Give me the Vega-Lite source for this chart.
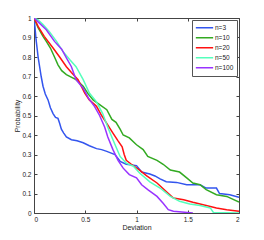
{
  "$schema": "https://vega.github.io/schema/vega-lite/v6.json",
  "width": 205,
  "height": 195,
  "autosize": {"type": "none"},
  "padding": {"left": 34, "top": 18, "right": 25, "bottom": 27},
  "background": "white",
  "config": {
    "view": {"stroke": "#444", "strokeWidth": 1},
    "font": "Liberation Sans",
    "axis": {"grid": false, "domain": false, "tickColor": "#444", "tickSize": -3, "labelFontSize": 6.5, "labelColor": "#222", "titleFontSize": 7, "titleFontWeight": "normal", "titleColor": "#222", "labelPadding": 6}
  },
  "data": {"values": [
    {"n":"n=3","x":0,"y":1},{"n":"n=3","x":0.01,"y":0.95},{"n":"n=3","x":0.02,"y":0.89},{"n":"n=3","x":0.04,"y":0.8},{"n":"n=3","x":0.055,"y":0.75},{"n":"n=3","x":0.07,"y":0.7},{"n":"n=3","x":0.088,"y":0.65},{"n":"n=3","x":0.11,"y":0.61},{"n":"n=3","x":0.137,"y":0.58},{"n":"n=3","x":0.16,"y":0.54},{"n":"n=3","x":0.186,"y":0.51},{"n":"n=3","x":0.21,"y":0.49},{"n":"n=3","x":0.234,"y":0.485},{"n":"n=3","x":0.25,"y":0.46},{"n":"n=3","x":0.267,"y":0.43},{"n":"n=3","x":0.29,"y":0.41},{"n":"n=3","x":0.316,"y":0.39},{"n":"n=3","x":0.365,"y":0.376},{"n":"n=3","x":0.42,"y":0.37},{"n":"n=3","x":0.48,"y":0.36},{"n":"n=3","x":0.54,"y":0.345},{"n":"n=3","x":0.61,"y":0.33},{"n":"n=3","x":0.66,"y":0.325},{"n":"n=3","x":0.71,"y":0.316},{"n":"n=3","x":0.79,"y":0.3},{"n":"n=3","x":0.84,"y":0.265},{"n":"n=3","x":0.9,"y":0.25},{"n":"n=3","x":1.0,"y":0.243},{"n":"n=3","x":1.05,"y":0.21},{"n":"n=3","x":1.13,"y":0.2},{"n":"n=3","x":1.18,"y":0.19},{"n":"n=3","x":1.23,"y":0.175},{"n":"n=3","x":1.29,"y":0.16},{"n":"n=3","x":1.39,"y":0.157},{"n":"n=3","x":1.49,"y":0.145},{"n":"n=3","x":1.62,"y":0.145},{"n":"n=3","x":1.68,"y":0.128},{"n":"n=3","x":1.78,"y":0.128},{"n":"n=3","x":1.81,"y":0.1},{"n":"n=3","x":1.91,"y":0.094},{"n":"n=3","x":2,"y":0.08},
    {"n":"n=10","x":0,"y":1},{"n":"n=10","x":0.04,"y":0.95},{"n":"n=10","x":0.088,"y":0.906},{"n":"n=10","x":0.12,"y":0.88},{"n":"n=10","x":0.16,"y":0.846},{"n":"n=10","x":0.2,"y":0.8},{"n":"n=10","x":0.234,"y":0.76},{"n":"n=10","x":0.27,"y":0.73},{"n":"n=10","x":0.316,"y":0.71},{"n":"n=10","x":0.41,"y":0.684},{"n":"n=10","x":0.48,"y":0.65},{"n":"n=10","x":0.53,"y":0.61},{"n":"n=10","x":0.577,"y":0.58},{"n":"n=10","x":0.64,"y":0.556},{"n":"n=10","x":0.71,"y":0.53},{"n":"n=10","x":0.76,"y":0.48},{"n":"n=10","x":0.8,"y":0.465},{"n":"n=10","x":0.84,"y":0.43},{"n":"n=10","x":0.87,"y":0.4},{"n":"n=10","x":0.93,"y":0.385},{"n":"n=10","x":1.0,"y":0.35},{"n":"n=10","x":1.065,"y":0.325},{"n":"n=10","x":1.11,"y":0.29},{"n":"n=10","x":1.2,"y":0.27},{"n":"n=10","x":1.26,"y":0.25},{"n":"n=10","x":1.33,"y":0.22},{"n":"n=10","x":1.42,"y":0.21},{"n":"n=10","x":1.49,"y":0.18},{"n":"n=10","x":1.55,"y":0.154},{"n":"n=10","x":1.62,"y":0.145},{"n":"n=10","x":1.68,"y":0.12},{"n":"n=10","x":1.78,"y":0.094},{"n":"n=10","x":1.88,"y":0.085},{"n":"n=10","x":2,"y":0.056},
    {"n":"n=20","x":0,"y":1},{"n":"n=20","x":0.04,"y":0.957},{"n":"n=20","x":0.1,"y":0.906},{"n":"n=20","x":0.186,"y":0.846},{"n":"n=20","x":0.25,"y":0.8},{"n":"n=20","x":0.316,"y":0.75},{"n":"n=20","x":0.365,"y":0.72},{"n":"n=20","x":0.43,"y":0.684},{"n":"n=20","x":0.495,"y":0.615},{"n":"n=20","x":0.54,"y":0.58},{"n":"n=20","x":0.61,"y":0.547},{"n":"n=20","x":0.66,"y":0.5},{"n":"n=20","x":0.71,"y":0.46},{"n":"n=20","x":0.77,"y":0.41},{"n":"n=20","x":0.82,"y":0.37},{"n":"n=20","x":0.86,"y":0.34},{"n":"n=20","x":0.88,"y":0.3},{"n":"n=20","x":0.9,"y":0.27},{"n":"n=20","x":0.95,"y":0.25},{"n":"n=20","x":1.03,"y":0.22},{"n":"n=20","x":1.1,"y":0.19},{"n":"n=20","x":1.2,"y":0.154},{"n":"n=20","x":1.29,"y":0.11},{"n":"n=20","x":1.36,"y":0.077},{"n":"n=20","x":1.46,"y":0.068},{"n":"n=20","x":1.55,"y":0.055},{"n":"n=20","x":1.68,"y":0.038},{"n":"n=20","x":1.78,"y":0.026},{"n":"n=20","x":1.88,"y":0.017},{"n":"n=20","x":2,"y":0.009},
    {"n":"n=50","x":0,"y":1},{"n":"n=50","x":0.04,"y":0.99},{"n":"n=50","x":0.088,"y":0.966},{"n":"n=50","x":0.15,"y":0.93},{"n":"n=50","x":0.22,"y":0.88},{"n":"n=50","x":0.28,"y":0.83},{"n":"n=50","x":0.35,"y":0.786},{"n":"n=50","x":0.41,"y":0.75},{"n":"n=50","x":0.48,"y":0.684},{"n":"n=50","x":0.54,"y":0.615},{"n":"n=50","x":0.61,"y":0.57},{"n":"n=50","x":0.67,"y":0.51},{"n":"n=50","x":0.72,"y":0.44},{"n":"n=50","x":0.77,"y":0.376},{"n":"n=50","x":0.84,"y":0.29},{"n":"n=50","x":0.9,"y":0.256},{"n":"n=50","x":0.97,"y":0.24},{"n":"n=50","x":1.03,"y":0.205},{"n":"n=50","x":1.13,"y":0.16},{"n":"n=50","x":1.23,"y":0.128},{"n":"n=50","x":1.33,"y":0.085},{"n":"n=50","x":1.42,"y":0.06},{"n":"n=50","x":1.52,"y":0.046},{"n":"n=50","x":1.62,"y":0.038},{"n":"n=50","x":1.72,"y":0.026},{"n":"n=50","x":1.75,"y":0.003},{"n":"n=50","x":2,"y":0},
    {"n":"n=100","x":0,"y":1},{"n":"n=100","x":0.04,"y":0.98},{"n":"n=100","x":0.12,"y":0.94},{"n":"n=100","x":0.2,"y":0.88},{"n":"n=100","x":0.27,"y":0.84},{"n":"n=100","x":0.316,"y":0.795},{"n":"n=100","x":0.365,"y":0.75},{"n":"n=100","x":0.41,"y":0.684},{"n":"n=100","x":0.48,"y":0.64},{"n":"n=100","x":0.53,"y":0.59},{"n":"n=100","x":0.59,"y":0.547},{"n":"n=100","x":0.64,"y":0.5},{"n":"n=100","x":0.69,"y":0.44},{"n":"n=100","x":0.72,"y":0.39},{"n":"n=100","x":0.77,"y":0.325},{"n":"n=100","x":0.82,"y":0.27},{"n":"n=100","x":0.87,"y":0.23},{"n":"n=100","x":0.93,"y":0.197},{"n":"n=100","x":1.0,"y":0.18},{"n":"n=100","x":1.05,"y":0.145},{"n":"n=100","x":1.11,"y":0.12},{"n":"n=100","x":1.2,"y":0.085},{"n":"n=100","x":1.26,"y":0.05},{"n":"n=100","x":1.31,"y":0.017},{"n":"n=100","x":1.36,"y":0.009},{"n":"n=100","x":1.55,"y":0}
  ]},
  "resolve": {"axis": {"x": "independent", "y": "independent"}},
  "layer": [
    {
      "mark": {"type": "line", "strokeWidth": 1.5, "clip": true},
      "encoding": {
        "x": {"field": "x", "type": "quantitative", "scale": {"domain": [0, 2], "nice": false}, "axis": {"title": "Deviation", "values": [0, 0.5, 1, 1.5, 2], "format": "~g", "titlePadding": 1}},
        "y": {"field": "y", "type": "quantitative", "scale": {"domain": [0, 1], "nice": false}, "axis": {"title": "Probability", "values": [0, 0.1, 0.2, 0.3, 0.4, 0.5, 0.6, 0.7, 0.8, 0.9, 1], "format": "~g", "titlePadding": 1}},
        "color": {"field": "n", "type": "nominal", "sort": ["n=3", "n=10", "n=20", "n=50", "n=100"],
          "scale": {"domain": ["n=3", "n=10", "n=20", "n=50", "n=100"], "range": ["#3355ee", "#33aa22", "#ff1111", "#55ffbb", "#9933ff"]},
          "legend": {"title": null, "orient": "top-right", "offset": 2, "fillColor": "white", "strokeColor": "#555", "padding": 3, "symbolType": "stroke", "symbolSize": 300, "symbolStrokeWidth": 1.5, "labelFontSize": 6.5, "labelColor": "#222", "rowPadding": 0, "clipHeight": 9.4, "labelOffset": 1}}
      }
    },
    {
      "mark": {"type": "line", "opacity": 0},
      "encoding": {
        "x": {"field": "x", "type": "quantitative", "scale": {"domain": [0, 2], "nice": false}, "axis": {"orient": "top", "title": null, "labels": false, "values": [0, 0.5, 1, 1.5, 2]}},
        "y": {"field": "y", "type": "quantitative", "scale": {"domain": [0, 1], "nice": false}, "axis": {"orient": "right", "title": null, "labels": false, "values": [0, 0.1, 0.2, 0.3, 0.4, 0.5, 0.6, 0.7, 0.8, 0.9, 1]}},
        "detail": {"field": "n"}
      }
    }
  ]
}
